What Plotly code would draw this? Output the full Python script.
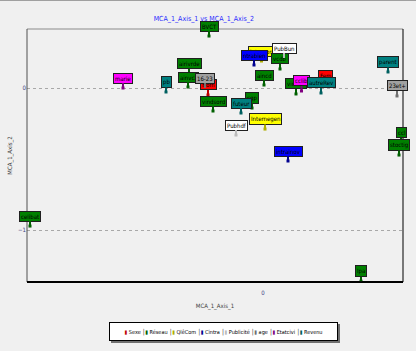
import plotly.graph_objects as go

# ---- data ----
labels = ["celibat", "marie", "pb", "airivrde", "ainvcz", "Hom", "16-23", "BVCT",
          "vindsord", "cqp", "futeur", "Pubhdf", "Internegen", "intrainov",
          "aincd", "intranon", "ntrabien", "vcdb", "PubBun",
          "vinsud", "cclib", "Fem", "autreRev", "parent", "23et+",
          "ccl", "stoctig", "Ipa"]
groups = ["Réseau", "Etatcivi", "Revenu", "Réseau", "Réseau", "Sexe", "age", "Réseau",
          "Réseau", "Réseau", "Revenu", "Publicité", "QlêCom", "Cintra",
          "Réseau", "QlêCom", "Cintra", "Réseau", "Publicité",
          "Réseau", "Etatcivi", "Sexe", "Revenu", "Revenu", "age",
          "Réseau", "Réseau", "Réseau"]
axis1 = [-0.932, -0.560, -0.388, -0.296, -0.300, -0.220, -0.232, -0.216,
         -0.200, -0.044, -0.088, -0.108, 0.008, 0.100,
         0.004, -0.006, -0.036, 0.068, 0.084,
         0.132, 0.154, 0.248, 0.232, 0.500, 0.536,
         0.552, 0.544, 0.392]
axis2 = [-0.972, 0.000, -0.028, 0.099, 0.007, -0.049, 0.000, 0.366,
         -0.162, -0.141, -0.176, -0.331, -0.289, -0.514,
         0.021, 0.190, 0.162, 0.134, 0.211,
         -0.042, -0.021, 0.021, -0.035, 0.113, -0.056,
         -0.387, -0.472, -1.360]
legend_order = ["Sexe", "Réseau", "QlêCom", "Cintra", "Publicité", "age", "Etatcivi", "Revenu"]
x_ticks = [0]
y_ticks = [0, -1]

# ---- styles ----
box_fill = {"Sexe": "#ff0000", "Réseau": "#008000", "QlêCom": "#ffff00", "Cintra": "#0000ff",
            "Publicité": "#ffffff", "age": "#a0a0a0", "Etatcivi": "#ff00ff", "Revenu": "#008080"}
mark_col = {"Sexe": "#c00000", "Réseau": "#006000", "QlêCom": "#b0b000", "Cintra": "#000090",
            "Publicité": "#bbbbbb", "age": "#707070", "Etatcivi": "#800080", "Revenu": "#006060"}
FONT = "DejaVu Sans Condensed, Liberation Sans Narrow, Arial, sans-serif"

fig = go.Figure()

for g in legend_order:
    xs = [axis1[i] for i in range(len(labels)) if groups[i] == g]
    ys = [axis2[i] for i in range(len(labels)) if groups[i] == g]
    fig.add_trace(go.Scatter(x=xs, y=ys, mode="markers", name=g, showlegend=False,
                             marker=dict(symbol="square", size=3, color=mark_col[g]),
                             hoverinfo="skip"))

annotations = []
for i, lab in enumerate(labels):
    g = groups[i]
    annotations.append(dict(
        x=axis1[i], y=axis2[i], xref="x", yref="y", text=lab,
        showarrow=True, arrowhead=0, arrowwidth=2, arrowcolor=mark_col[g],
        ax=0, ay=-10, bgcolor=box_fill[g], bordercolor="#202020", borderwidth=1,
        borderpad=1, font=dict(family=FONT, size=6, color="#000000")))

# legend built as one boxed text row (single line like the reference)
legend_parts = []
for g in legend_order:
    legend_parts.append("<span style='color:%s'>▮</span> %s" % (mark_col[g], g))
legend_text = " │".join(legend_parts)
leg_x = (223 - 27) / 376
leg_y = -(331 - 282) / 253
annotations.append(dict(xref="paper", yref="paper", x=leg_x, y=leg_y, xshift=2, yshift=-2,
                        xanchor="center", yanchor="middle",
                        text=" ", showarrow=False, width=227, height=17,
                        bgcolor="#707070", borderwidth=0,
                        font=dict(family=FONT, size=6)))
annotations.append(dict(xref="paper", yref="paper", x=leg_x, y=leg_y,
                        xanchor="center", yanchor="middle",
                        text=legend_text, showarrow=False, width=227, height=17,
                        bgcolor="#ffffff", bordercolor="#000000", borderwidth=1, borderpad=0,
                        font=dict(family=FONT, size=5.5, color="#000000")))

fig.update_layout(
    width=416, height=351,
    margin=dict(l=27, r=13, t=29, b=69, autoexpand=False),
    paper_bgcolor="#f0f0f0", plot_bgcolor="#f0f0f0",
    title=dict(text="MCA_1_Axis_1 vs MCA_1_Axis_2", x=0.49, xanchor="center",
               y=1 - 19 / 351, yanchor="middle",
               font=dict(family=FONT, size=7, color="#2a2aff")),
    showlegend=False,
    xaxis=dict(range=[-0.944, 0.56], tickvals=x_ticks, showgrid=False, zeroline=False,
               showline=False, ticks="", automargin=False, ticklabelstandoff=6,
               tickfont=dict(family=FONT, size=6, color="#404080"),
               title=dict(text="MCA_1_Axis_1", standoff=8,
                          font=dict(family=FONT, size=6, color="#404040"))),
    yaxis=dict(range=[-1.366, 0.4155], tickvals=y_ticks, showgrid=True,
               gridcolor="#a8a8a8", griddash="dot", gridwidth=1, zeroline=False,
               showline=False, ticks="", automargin=False,
               tickfont=dict(family=FONT, size=6, color="#404080"),
               title=dict(text="MCA_1_Axis_2", standoff=4,
                          font=dict(family=FONT, size=6, color="#404040"))),
    annotations=annotations,
    shapes=[
        dict(type="line", xref="paper", yref="paper", x0=0, x1=1, y0=1, y1=1,
             line=dict(color="#8a8a8a", width=1)),
        dict(type="line", xref="paper", yref="paper", x0=0, x1=0, y0=0, y1=1,
             line=dict(color="#505050", width=1)),
        dict(type="line", xref="paper", yref="paper", x0=1, x1=1, y0=0, y1=1,
             line=dict(color="#000000", width=1)),
        dict(type="line", xref="paper", yref="paper", x0=0, x1=1, y0=0, y1=0,
             line=dict(color="#000000", width=2)),
        dict(type="line", xref="paper", yref="paper", x0=-27 / 376, x1=389 / 376,
             y0=(253 + 28.5) / 253, y1=(253 + 28.5) / 253,
             line=dict(color="#a0a0a0", width=1)),
    ],
)

fig.write_html("out.html")
